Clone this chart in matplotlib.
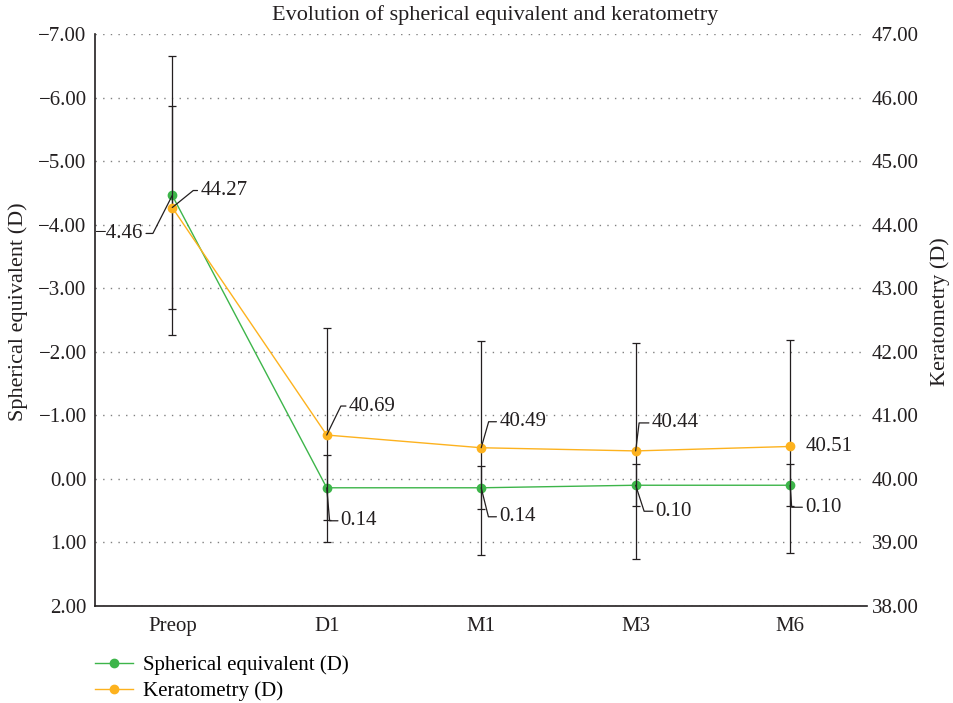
import numpy as np
import matplotlib.pyplot as plt
from matplotlib.ticker import FuncFormatter

# visits and measured values (mean +/- sd)
visits = ["Preop", "D1", "M1", "M3", "M6"]
se_mean = [-4.46, 0.14, 0.14, 0.10, 0.10]
se_sd = [2.20, 0.51, 0.34, 0.33, 0.33]
k_mean = [44.27, 40.69, 40.49, 40.44, 40.51]
k_sd = [1.60, 1.69, 1.68, 1.70, 1.67]

se_ticks = [-7, -6, -5, -4, -3, -2, -1, 0, 1, 2]
k_ticks = [38, 39, 40, 41, 42, 43, 44, 45, 46, 47]

GREEN = "#3db54a"
ORANGE = "#fdb21e"
INK = "#231f20"

# label offsets in pixels (dx, dy, leader angle)
se_label_style = [(-29, -38, 63), (14, -33, 95), (18, -29, 104), (20, -26, 108), (15, -22, 94)]
k_label_style = [(28, 17, 39), (22, 29, 64), (18, 26, 74), (16, 28, 83), (15, 0, None)]


def fmt(v, pos=None):
    s = f"{v:.2f}"
    if s == "-0.00":
        s = "0.00"
    return s.replace("-", "\u2212")


def add_label(ax, x, y, text, style):
    dx, dy, ang = style
    ha = "right" if dx < 0 else "left"
    if ang is None:
        ax.annotate(text, (x, y), xytext=(dx, dy), textcoords="offset pixels",
                    ha=ha, va="center", fontsize=15, color=INK, zorder=6)
        return
    ax.annotate(text, (x, y), xytext=(dx, dy), textcoords="offset pixels",
                ha=ha, va="center", fontsize=15, color=INK, zorder=6,
                arrowprops=dict(arrowstyle="-", color=INK, lw=0.9,
                                shrinkA=0, shrinkB=0,
                                relpos=(1, 0.5) if dx < 0 else (0, 0.5),
                                connectionstyle=f"angle,angleA=0,angleB={ang},rad=0"))


def evolution_chart():
    plt.rcParams["font.family"] = ["Liberation Serif", "DejaVu Serif"]
    plt.rcParams["axes.unicode_minus"] = True

    fig = plt.figure(figsize=(9.54, 7.03), dpi=100)
    ax = fig.add_axes([0.0996, 0.138, 0.8096, 0.8136])
    ax2 = ax.twinx()

    x = np.arange(len(visits))

    # error bars first, then lines on top
    ax.errorbar(x, se_mean, yerr=se_sd, fmt="none", ecolor=INK,
                elinewidth=0.9, capsize=3, capthick=0.9, zorder=2)
    ax2.errorbar(x, k_mean, yerr=k_sd, fmt="none", ecolor=INK,
                 elinewidth=0.9, capsize=3, capthick=0.9, zorder=2)

    l1, = ax.plot(x, se_mean, color=GREEN, lw=1.0, marker="o", ms=6,
                  label="Spherical equivalent (D)", zorder=3)
    l2, = ax2.plot(x, k_mean, color=ORANGE, lw=1.0, marker="o", ms=6,
                   label="Keratometry (D)", zorder=3)

    for i in range(len(visits)):
        add_label(ax, x[i], se_mean[i], fmt(se_mean[i]), se_label_style[i])
        add_label(ax2, x[i], k_mean[i], fmt(k_mean[i]), k_label_style[i])

    ax.set_xlim(-0.5, len(visits) - 0.5)
    ax.set_ylim(2, -7)
    ax2.set_ylim(38, 47)

    ax.set_xticks(x)
    ax.set_xticklabels(visits)
    ax.set_yticks(se_ticks)
    ax.yaxis.set_major_formatter(FuncFormatter(fmt))
    ax2.set_yticks(k_ticks)
    ax2.yaxis.set_major_formatter(FuncFormatter(fmt))

    ax.tick_params(axis="both", length=0, labelsize=15, colors=INK)
    ax.tick_params(axis="y", pad=6)
    ax.tick_params(axis="x", pad=8)
    ax2.tick_params(axis="y", length=0, labelsize=15, colors=INK, pad=3)

    ax.grid(axis="y", color="#808080", linestyle=(0, (1, 4.5)), lw=1.0)
    ax.set_axisbelow(True)

    for s in ["top", "right"]:
        ax.spines[s].set_visible(False)
    for s in ax2.spines.values():
        s.set_visible(False)
    ax.spines["left"].set_color(INK)
    ax.spines["bottom"].set_color(INK)
    ax.spines["left"].set_linewidth(1.2)
    ax.spines["bottom"].set_linewidth(1.2)

    # axis titles placed directly in figure pixels
    fig.text(18 / 954, 1 - 312 / 703, "Spherical equivalent (D)", rotation=90,
             ha="center", va="center", fontsize=16, color=INK)
    fig.text(940 / 954, 1 - 312 / 703, "Keratometry (D)", rotation=90,
             ha="center", va="center", fontsize=16, color=INK)

    fig.text(495 / 954, 1 - 15 / 703, "Evolution of spherical equivalent and keratometry",
             ha="center", va="center", fontsize=16, color=INK)

    fig.legend(handles=[l1, l2], loc="upper left", bbox_to_anchor=(0.0996, 0.068),
               frameon=False, fontsize=15, borderpad=0, borderaxespad=0,
               handlelength=1.8, handletextpad=0.5, labelspacing=0.3)

    fig.savefig("out.png", dpi=100)


def main():
    evolution_chart()


if __name__ == "__main__":
    main()
